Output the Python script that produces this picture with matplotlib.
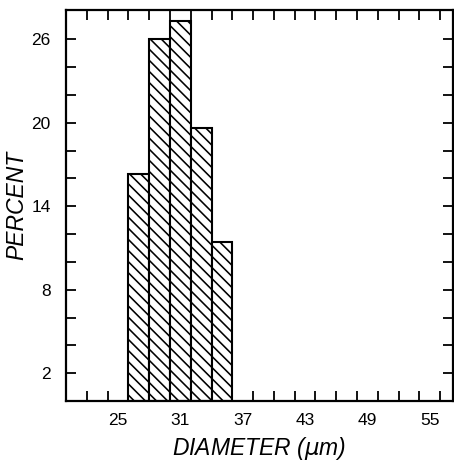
import matplotlib
matplotlib.use("Agg")
import matplotlib.pyplot as plt
import numpy as np

# Data
bin_left = [26, 28, 30, 32, 34]
bin_width = 2
percent = [16.3, 26.0, 27.3, 19.6, 11.4]
x_label_vals = [25, 31, 37, 43, 49, 55]
y_label_vals = [2, 8, 14, 20, 26]

plt.rcParams['font.family'] = ['Liberation Sans', 'DejaVu Sans']
plt.rcParams['hatch.linewidth'] = 1.15

fig = plt.figure(figsize=(4.54, 4.66), dpi=100)
ax = fig.add_axes([0.1454, 0.1395, 0.8516, 0.839])

ax.bar(bin_left, percent, width=bin_width, align='edge', facecolor='white',
       edgecolor='black', linewidth=1.5, hatch='\\\\\\')

ax.set_xlim(20, 57.2)
ax.set_ylim(0, 28.1)

# tick marks
ax.set_xticks(np.arange(22, 57, 2))
ax.set_xticklabels([])
ax.set_xticks(x_label_vals, minor=True)
ax.set_xticklabels([str(v) for v in x_label_vals], minor=True)
ax.tick_params(axis='x', which='major', direction='in', length=7, width=1.3,
               top=True, bottom=True)
ax.tick_params(axis='x', which='minor', length=0, pad=9, labelsize=12.5)

ax.set_yticks(y_label_vals)
ax.set_yticklabels([str(v) for v in y_label_vals])
ax.set_yticks(np.arange(2, 28, 2), minor=True)
ax.tick_params(axis='y', which='both', direction='in', length=7, width=1.3,
               left=True, right=True, labelsize=12.5, pad=11)

for s in ax.spines.values():
    s.set_linewidth(1.6)

ax.set_xlabel('DIAMETER ($\\mu$m)', fontsize=16.5, style='italic', labelpad=5)
ax.set_ylabel('PERCENT', fontsize=16.5, style='italic', labelpad=2)

fig.savefig('out.png', dpi=100)
